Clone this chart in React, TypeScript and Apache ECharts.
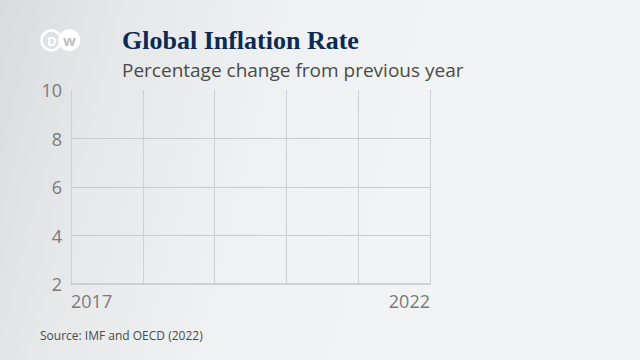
import React, { useEffect, useRef } from "react";
import * as echarts from "echarts";

const years = ["2017", "2018", "2019", "2020", "2021", "2022"];
const inflation: (number | null)[] = [];
const yTicks = { min: 2, max: 10, interval: 2 };
const titleText = "Global Inflation Rate";
const subtitleText = "Percentage change from previous year";
const sourceText = "Source: IMF and OECD (2022)";

export default function App() {
  const ref = useRef<HTMLDivElement>(null);
  useEffect(() => {
    if (!ref.current) return;
    const chart = echarts.init(ref.current, null, { renderer: "svg" });
    const sans = "'Open Sans', 'Noto Sans', sans-serif";
    chart.setOption({
      animation: false,
      backgroundColor: "transparent",
      title: {
        text: titleText,
        left: 117,
        top: 22,
        textStyle: {
          fontFamily: "'Liberation Serif', serif",
          fontWeight: "bold",
          fontSize: 26,
          color: "#0c2a52",
        },
        subtext: subtitleText,
        itemGap: 7,
        subtextStyle: {
          fontFamily: sans,
          fontSize: 19,
          color: "#4a4a4a",
        },
      },
      grid: { left: 71, right: 210, top: 90, bottom: 76 },
      xAxis: {
        type: "category",
        data: years,
        boundaryGap: false,
        axisLine: { show: true, lineStyle: { color: "#c4c6c9", width: 1.5 } },
        axisTick: { show: false },
        splitLine: { show: true, interval: 0, lineStyle: { color: "#cfd0d3", width: 1 } },
        axisLabel: {
          interval: (i: number) => i === 0 || i === years.length - 1,
          alignMinLabel: "left",
          alignMaxLabel: "right",
          fontFamily: sans,
          fontSize: 18,
          color: "#7a7a7a",
          margin: 8,
        },
      },
      yAxis: {
        type: "value",
        min: yTicks.min,
        max: yTicks.max,
        interval: yTicks.interval,
        axisLine: { show: false },
        axisTick: { show: false },
        splitLine: {
          show: true,
          showMinLine: false,
          showMaxLine: false,
          lineStyle: { color: "#c9cacd", width: 1 },
        },
        axisLabel: { fontFamily: sans, fontSize: 18, color: "#7a7a7a", margin: 9 },
      },
      series: [{ type: "line", data: inflation, showSymbol: false }],
      graphic: [
        {
          type: "group",
          left: 39,
          top: 28,
          children: [
            { type: "circle", shape: { cx: 11, cy: 11, r: 9.8 }, style: { fill: "none", stroke: "#ffffff", lineWidth: 2.6 } },
            { type: "circle", shape: { cx: 29, cy: 11, r: 11 }, style: { fill: "#ffffff" } },
            { type: "text", style: { x: 11.5, y: 11.5, text: "D", fill: "#ffffff", font: "bold 13px 'Open Sans', sans-serif", align: "center", verticalAlign: "middle" } },
            { type: "text", style: { x: 29, y: 10.5, text: "w", fill: "#bfc1c4", font: "bold 15px 'Open Sans', sans-serif", align: "center", verticalAlign: "middle" } },
          ],
        },
        {
          type: "text",
          left: 40,
          top: 329,
          style: { text: sourceText, font: "12px 'Open Sans', sans-serif", fill: "#4a4a4a" },
        },
      ],
    });
    return () => chart.dispose();
  }, []);
  return (
    <div
      ref={ref}
      style={{
        position: "fixed",
        left: 0,
        top: 0,
        width: 640,
        height: 360,
        background:
          "linear-gradient(105deg, #d9dbde 0%, #e6e8ea 18%, #eff0f2 38%, #f2f3f5 60%, #f2f3f5 100%)",
      }}
    />
  );
}
